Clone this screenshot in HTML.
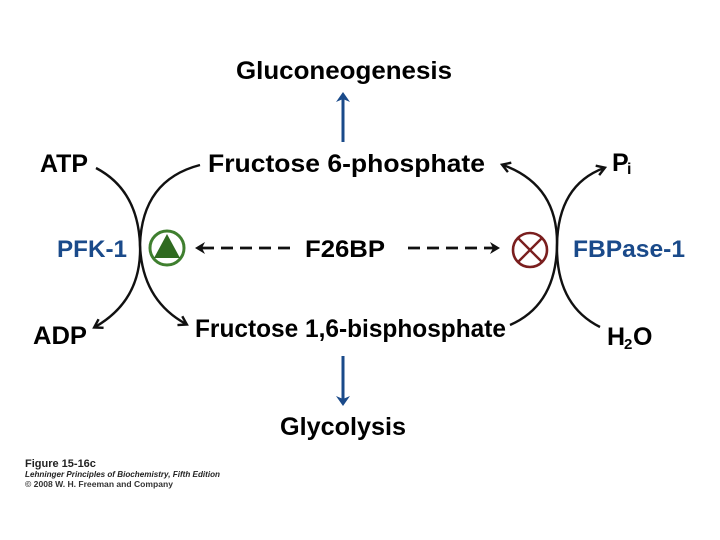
<!DOCTYPE html>
<html><head><style>
html,body{margin:0;padding:0;background:#fff;}
svg{display:block;}
text{font-family:"Liberation Sans",sans-serif;font-weight:bold;}
</style></head><body>
<svg width="720" height="540" viewBox="0 0 720 540" xmlns="http://www.w3.org/2000/svg">
<defs>
<marker id="ah" markerWidth="12" markerHeight="12" refX="8" refY="6" orient="auto" markerUnits="userSpaceOnUse">
<path d="M1,1 L9,6 L1,11" fill="none" stroke="#111" stroke-width="2.4"/>
</marker>
<marker id="bh" markerWidth="14" markerHeight="14" refX="8" refY="7" orient="auto" markerUnits="userSpaceOnUse">
<path d="M0,0 L10,7 L0,14 L3,7 Z" fill="#1a4a8a"/>
</marker>
<marker id="dh" markerWidth="12" markerHeight="12" refX="8" refY="6" orient="auto" markerUnits="userSpaceOnUse">
<path d="M0,0 L10,6 L0,12 L3,6 Z" fill="#111"/>
</marker>
</defs>
<text x="236" y="79" font-size="25" textLength="216" lengthAdjust="spacingAndGlyphs">Gluconeogenesis</text>
<line x1="343" y1="142" x2="343" y2="94" stroke="#1a4a8a" stroke-width="3" marker-end="url(#bh)"/>
<text x="40" y="172" font-size="25" textLength="48" lengthAdjust="spacingAndGlyphs">ATP</text>
<text x="208" y="172" font-size="25" textLength="277" lengthAdjust="spacingAndGlyphs">Fructose 6-phosphate</text>
<text x="612" y="171" font-size="25">P</text><text x="627" y="174" font-size="16">i</text>
<text x="57" y="257" font-size="24" fill="#1a4a8a" textLength="70" lengthAdjust="spacingAndGlyphs">PFK-1</text>
<text x="305" y="257" font-size="24" textLength="80" lengthAdjust="spacingAndGlyphs">F26BP</text>
<text x="573" y="257" font-size="24" fill="#1a4a8a" textLength="112" lengthAdjust="spacingAndGlyphs">FBPase-1</text>
<text x="33" y="344" font-size="25" textLength="54" lengthAdjust="spacingAndGlyphs">ADP</text>
<text x="195" y="337" font-size="25" textLength="311" lengthAdjust="spacingAndGlyphs">Fructose 1,6-bisphosphate</text>
<text x="607" y="345" font-size="25">H</text><text x="624" y="349" font-size="15">2</text><text x="633" y="345" font-size="25">O</text>
<line x1="343" y1="356" x2="343" y2="404" stroke="#1a4a8a" stroke-width="3" marker-end="url(#bh)"/>
<text x="280" y="435" font-size="25" textLength="126" lengthAdjust="spacingAndGlyphs">Glycolysis</text>
<path d="M96,168 Q138,190 140,245 Q142,300 95,327" fill="none" stroke="#111" stroke-width="2.4" marker-end="url(#ah)"/>
<path d="M200,165 Q142,180 140,245 Q142,300 186,324" fill="none" stroke="#111" stroke-width="2.4" marker-end="url(#ah)"/>
<path d="M510,325 Q556,305 557,245 Q558,185 503,165" fill="none" stroke="#111" stroke-width="2.4" marker-end="url(#ah)"/>
<path d="M600,327 Q556,305 557,245 Q558,185 604,168" fill="none" stroke="#111" stroke-width="2.4" marker-end="url(#ah)"/>
<circle cx="167" cy="248" r="17" fill="#fff" stroke="#3f7f2f" stroke-width="3"/>
<path d="M167,234 L180,258 L154,258 Z" fill="#2f6a20"/>
<circle cx="530" cy="250" r="17" fill="#fff" stroke="#7a1e1e" stroke-width="2.6"/>
<line x1="518" y1="238" x2="542" y2="262" stroke="#7a1e1e" stroke-width="2.4"/>
<line x1="542" y1="238" x2="518" y2="262" stroke="#7a1e1e" stroke-width="2.4"/>
<line x1="290" y1="248" x2="197" y2="248" stroke="#111" stroke-width="2.8" stroke-dasharray="12,7" marker-end="url(#dh)"/>
<line x1="408" y1="248" x2="498" y2="248" stroke="#111" stroke-width="2.8" stroke-dasharray="12,7" marker-end="url(#dh)"/>
<text x="25" y="467" font-size="11" fill="#222">Figure 15-16c</text>
<text x="25" y="477" font-size="8.5" font-style="italic" fill="#222" textLength="195" lengthAdjust="spacingAndGlyphs">Lehninger Principles of Biochemistry, Fifth Edition</text>
<text x="25" y="487" font-size="8" font-weight="normal" fill="#333" textLength="148" lengthAdjust="spacingAndGlyphs">© 2008 W. H. Freeman and Company</text>
</svg>
</body></html>
